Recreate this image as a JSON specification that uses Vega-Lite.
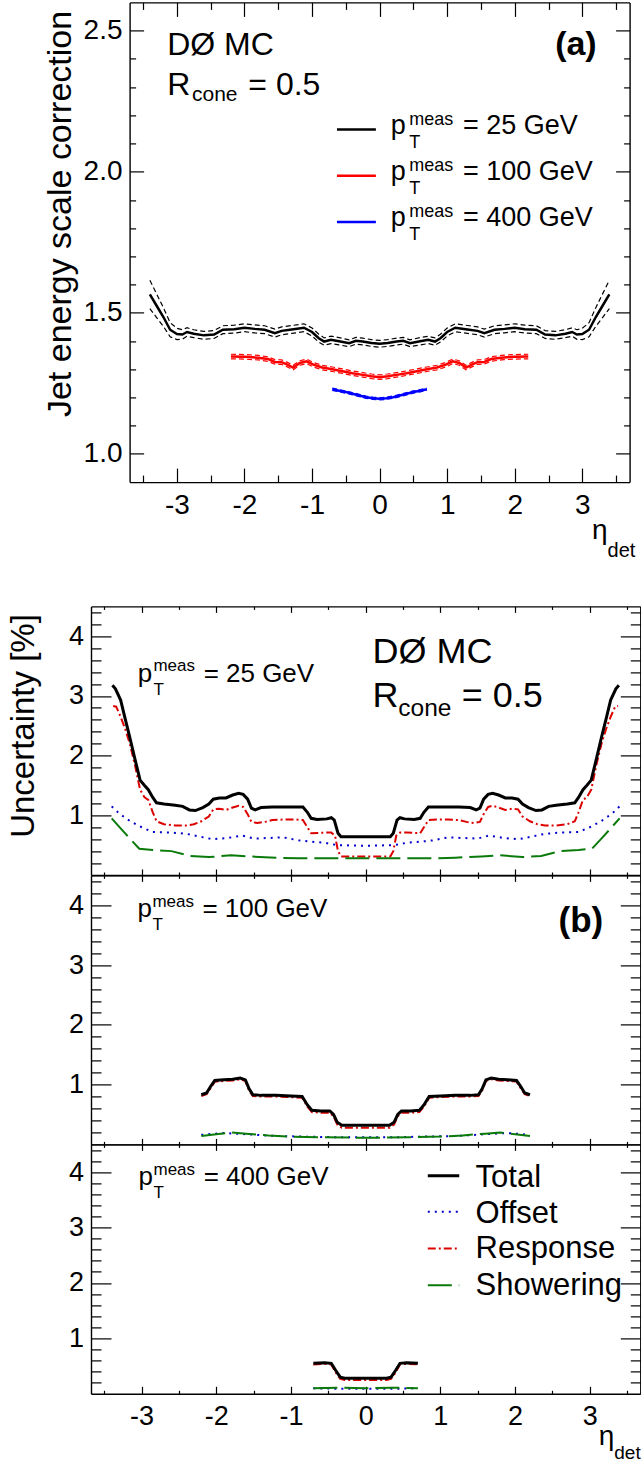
{
"$schema": "https://vega.github.io/schema/vega-lite/v6.json",
"background": "white",
"padding": {"left": 7, "top": 1.4, "right": 0, "bottom": 0},
"config": {
  "view": {"stroke": null},
  "font": "Liberation Sans",
  "axis": {"grid": false, "domainColor": "#000", "domainWidth": 1.4, "tickColor": "#000", "tickWidth": 1.2, "labelColor": "#000", "labelFont": "Liberation Sans", "titleFont": "Liberation Sans", "titleColor": "#000", "titleFontWeight": "normal", "labelFlush": false, "labelOverlap": false},
  "text": {"font": "Liberation Sans", "align": "left", "baseline": "alphabetic", "color": "#000"}
},
"datasets": {
  "jes": [
    {"p":"25","e":-3.4,"c":1.565,"u":1.615,"l":1.515},{"p":"25","e":-3.3,"c":1.525,"u":1.567,"l":1.483},{"p":"25","e":-3.2,"c":1.485,"u":1.518,"l":1.452},{"p":"25","e":-3.1,"c":1.44,"u":1.465,"l":1.415},{"p":"25","e":-3.0,"c":1.425,"u":1.445,"l":1.405},{"p":"25","e":-2.92,"c":1.423,"u":1.44,"l":1.406},{"p":"25","e":-2.85,"c":1.432,"u":1.447,"l":1.417},{"p":"25","e":-2.75,"c":1.426,"u":1.44,"l":1.412},{"p":"25","e":-2.6,"c":1.42,"u":1.434,"l":1.406},{"p":"25","e":-2.45,"c":1.423,"u":1.437,"l":1.409},{"p":"25","e":-2.32,"c":1.44,"u":1.454,"l":1.426},{"p":"25","e":-2.15,"c":1.442,"u":1.456,"l":1.428},{"p":"25","e":-2.0,"c":1.447,"u":1.461,"l":1.433},{"p":"25","e":-1.85,"c":1.443,"u":1.457,"l":1.429},{"p":"25","e":-1.7,"c":1.44,"u":1.454,"l":1.426},{"p":"25","e":-1.55,"c":1.428,"u":1.442,"l":1.414},{"p":"25","e":-1.45,"c":1.436,"u":1.45,"l":1.422},{"p":"25","e":-1.3,"c":1.441,"u":1.455,"l":1.427},{"p":"25","e":-1.12,"c":1.447,"u":1.461,"l":1.433},{"p":"25","e":-1.0,"c":1.432,"u":1.446,"l":1.418},{"p":"25","e":-0.9,"c":1.41,"u":1.424,"l":1.396},{"p":"25","e":-0.82,"c":1.398,"u":1.411,"l":1.385},{"p":"25","e":-0.72,"c":1.404,"u":1.417,"l":1.391},{"p":"25","e":-0.6,"c":1.399,"u":1.412,"l":1.386},{"p":"25","e":-0.45,"c":1.392,"u":1.404,"l":1.38},{"p":"25","e":-0.35,"c":1.401,"u":1.413,"l":1.389},{"p":"25","e":-0.25,"c":1.398,"u":1.41,"l":1.386},{"p":"25","e":-0.12,"c":1.393,"u":1.405,"l":1.381},{"p":"25","e":0,"c":1.39,"u":1.402,"l":1.378},
    {"p":"25","e":0.12,"c":1.393,"u":1.405,"l":1.381},{"p":"25","e":0.25,"c":1.398,"u":1.41,"l":1.386},{"p":"25","e":0.35,"c":1.401,"u":1.413,"l":1.389},{"p":"25","e":0.45,"c":1.392,"u":1.404,"l":1.38},{"p":"25","e":0.6,"c":1.399,"u":1.412,"l":1.386},{"p":"25","e":0.72,"c":1.404,"u":1.417,"l":1.391},{"p":"25","e":0.82,"c":1.398,"u":1.411,"l":1.385},{"p":"25","e":0.9,"c":1.41,"u":1.424,"l":1.396},{"p":"25","e":1.0,"c":1.432,"u":1.446,"l":1.418},{"p":"25","e":1.12,"c":1.447,"u":1.461,"l":1.433},{"p":"25","e":1.3,"c":1.441,"u":1.455,"l":1.427},{"p":"25","e":1.45,"c":1.436,"u":1.45,"l":1.422},{"p":"25","e":1.55,"c":1.428,"u":1.442,"l":1.414},{"p":"25","e":1.7,"c":1.44,"u":1.454,"l":1.426},{"p":"25","e":1.85,"c":1.443,"u":1.457,"l":1.429},{"p":"25","e":2.0,"c":1.447,"u":1.461,"l":1.433},{"p":"25","e":2.15,"c":1.442,"u":1.456,"l":1.428},{"p":"25","e":2.32,"c":1.44,"u":1.454,"l":1.426},{"p":"25","e":2.45,"c":1.423,"u":1.437,"l":1.409},{"p":"25","e":2.6,"c":1.42,"u":1.434,"l":1.406},{"p":"25","e":2.75,"c":1.426,"u":1.44,"l":1.412},{"p":"25","e":2.85,"c":1.432,"u":1.447,"l":1.417},{"p":"25","e":2.92,"c":1.423,"u":1.44,"l":1.406},{"p":"25","e":3.0,"c":1.425,"u":1.445,"l":1.405},{"p":"25","e":3.1,"c":1.44,"u":1.465,"l":1.415},{"p":"25","e":3.2,"c":1.485,"u":1.518,"l":1.452},{"p":"25","e":3.3,"c":1.525,"u":1.567,"l":1.483},{"p":"25","e":3.4,"c":1.565,"u":1.615,"l":1.515},
    {"p":"100","e":-2.2,"c":1.345,"u":1.353,"l":1.337},{"p":"100","e":-2.0,"c":1.344,"u":1.352,"l":1.336},{"p":"100","e":-1.8,"c":1.341,"u":1.349,"l":1.333},{"p":"100","e":-1.65,"c":1.336,"u":1.344,"l":1.328},{"p":"100","e":-1.55,"c":1.326,"u":1.334,"l":1.318},{"p":"100","e":-1.45,"c":1.325,"u":1.333,"l":1.317},{"p":"100","e":-1.38,"c":1.318,"u":1.326,"l":1.31},{"p":"100","e":-1.28,"c":1.306,"u":1.314,"l":1.298},{"p":"100","e":-1.18,"c":1.322,"u":1.33,"l":1.314},{"p":"100","e":-1.08,"c":1.328,"u":1.336,"l":1.32},{"p":"100","e":-0.98,"c":1.316,"u":1.324,"l":1.308},{"p":"100","e":-0.85,"c":1.306,"u":1.314,"l":1.298},{"p":"100","e":-0.7,"c":1.3,"u":1.308,"l":1.292},{"p":"100","e":-0.55,"c":1.293,"u":1.301,"l":1.285},{"p":"100","e":-0.4,"c":1.286,"u":1.294,"l":1.278},{"p":"100","e":-0.25,"c":1.28,"u":1.288,"l":1.272},{"p":"100","e":-0.12,"c":1.275,"u":1.283,"l":1.267},{"p":"100","e":0,"c":1.272,"u":1.28,"l":1.264},
    {"p":"100","e":0.12,"c":1.275,"u":1.283,"l":1.267},{"p":"100","e":0.25,"c":1.28,"u":1.288,"l":1.272},{"p":"100","e":0.4,"c":1.286,"u":1.294,"l":1.278},{"p":"100","e":0.55,"c":1.293,"u":1.301,"l":1.285},{"p":"100","e":0.7,"c":1.3,"u":1.308,"l":1.292},{"p":"100","e":0.85,"c":1.306,"u":1.314,"l":1.298},{"p":"100","e":0.98,"c":1.316,"u":1.324,"l":1.308},{"p":"100","e":1.08,"c":1.328,"u":1.336,"l":1.32},{"p":"100","e":1.18,"c":1.322,"u":1.33,"l":1.314},{"p":"100","e":1.28,"c":1.306,"u":1.314,"l":1.298},{"p":"100","e":1.38,"c":1.318,"u":1.326,"l":1.31},{"p":"100","e":1.45,"c":1.325,"u":1.333,"l":1.317},{"p":"100","e":1.55,"c":1.326,"u":1.334,"l":1.318},{"p":"100","e":1.65,"c":1.336,"u":1.344,"l":1.328},{"p":"100","e":1.8,"c":1.341,"u":1.349,"l":1.333},{"p":"100","e":2.0,"c":1.344,"u":1.352,"l":1.336},{"p":"100","e":2.2,"c":1.345,"u":1.353,"l":1.337},
    {"p":"400","e":-0.7,"c":1.229,"u":1.233,"l":1.225},{"p":"400","e":-0.6,"c":1.224,"u":1.228,"l":1.22},{"p":"400","e":-0.5,"c":1.219,"u":1.223,"l":1.215},{"p":"400","e":-0.4,"c":1.213,"u":1.217,"l":1.209},{"p":"400","e":-0.3,"c":1.207,"u":1.211,"l":1.203},{"p":"400","e":-0.2,"c":1.201,"u":1.205,"l":1.197},{"p":"400","e":-0.1,"c":1.197,"u":1.201,"l":1.193},{"p":"400","e":0,"c":1.195,"u":1.199,"l":1.191},{"p":"400","e":0.1,"c":1.197,"u":1.201,"l":1.193},{"p":"400","e":0.2,"c":1.201,"u":1.205,"l":1.197},{"p":"400","e":0.3,"c":1.207,"u":1.211,"l":1.203},{"p":"400","e":0.4,"c":1.213,"u":1.217,"l":1.209},{"p":"400","e":0.5,"c":1.219,"u":1.223,"l":1.215},{"p":"400","e":0.6,"c":1.224,"u":1.228,"l":1.22},{"p":"400","e":0.7,"c":1.229,"u":1.233,"l":1.225}
  ],
  "unc": [
    {"p":"25","c":"Total","e":-3.39,"v":3.18},{"p":"25","c":"Total","e":-3.35,"v":3.12},{"p":"25","c":"Total","e":-3.28,"v":2.93},{"p":"25","c":"Total","e":-3.22,"v":2.62},{"p":"25","c":"Total","e":-3.16,"v":2.32},{"p":"25","c":"Total","e":-3.09,"v":1.95},{"p":"25","c":"Total","e":-3.02,"v":1.59},{"p":"25","c":"Total","e":-2.96,"v":1.5},{"p":"25","c":"Total","e":-2.91,"v":1.43},{"p":"25","c":"Total","e":-2.85,"v":1.3},{"p":"25","c":"Total","e":-2.8,"v":1.21},{"p":"25","c":"Total","e":-2.7,"v":1.19},{"p":"25","c":"Total","e":-2.55,"v":1.17},{"p":"25","c":"Total","e":-2.45,"v":1.15},{"p":"25","c":"Total","e":-2.36,"v":1.09},{"p":"25","c":"Total","e":-2.28,"v":1.08},{"p":"25","c":"Total","e":-2.18,"v":1.13},{"p":"25","c":"Total","e":-2.1,"v":1.19},{"p":"25","c":"Total","e":-2.04,"v":1.27},{"p":"25","c":"Total","e":-1.96,"v":1.29},{"p":"25","c":"Total","e":-1.87,"v":1.29},{"p":"25","c":"Total","e":-1.78,"v":1.34},{"p":"25","c":"Total","e":-1.7,"v":1.37},{"p":"25","c":"Total","e":-1.64,"v":1.35},{"p":"25","c":"Total","e":-1.58,"v":1.27},{"p":"25","c":"Total","e":-1.53,"v":1.12},{"p":"25","c":"Total","e":-1.48,"v":1.09},{"p":"25","c":"Total","e":-1.4,"v":1.13},{"p":"25","c":"Total","e":-1.25,"v":1.14},{"p":"25","c":"Total","e":-1.1,"v":1.14},{"p":"25","c":"Total","e":-0.95,"v":1.14},{"p":"25","c":"Total","e":-0.84,"v":1.14},{"p":"25","c":"Total","e":-0.78,"v":1.05},{"p":"25","c":"Total","e":-0.73,"v":0.95},{"p":"25","c":"Total","e":-0.65,"v":0.93},{"p":"25","c":"Total","e":-0.52,"v":0.94},{"p":"25","c":"Total","e":-0.46,"v":0.96},{"p":"25","c":"Total","e":-0.42,"v":0.92},{"p":"25","c":"Total","e":-0.37,"v":0.7},{"p":"25","c":"Total","e":-0.33,"v":0.64},{"p":"25","c":"Total","e":0,"v":0.64},
    {"p":"25","c":"Total","e":0.33,"v":0.64},{"p":"25","c":"Total","e":0.37,"v":0.7},{"p":"25","c":"Total","e":0.42,"v":0.92},{"p":"25","c":"Total","e":0.46,"v":0.96},{"p":"25","c":"Total","e":0.52,"v":0.94},{"p":"25","c":"Total","e":0.65,"v":0.93},{"p":"25","c":"Total","e":0.73,"v":0.95},{"p":"25","c":"Total","e":0.78,"v":1.05},{"p":"25","c":"Total","e":0.84,"v":1.14},{"p":"25","c":"Total","e":0.95,"v":1.14},{"p":"25","c":"Total","e":1.1,"v":1.14},{"p":"25","c":"Total","e":1.25,"v":1.14},{"p":"25","c":"Total","e":1.4,"v":1.13},{"p":"25","c":"Total","e":1.48,"v":1.09},{"p":"25","c":"Total","e":1.53,"v":1.12},{"p":"25","c":"Total","e":1.58,"v":1.27},{"p":"25","c":"Total","e":1.64,"v":1.35},{"p":"25","c":"Total","e":1.7,"v":1.37},{"p":"25","c":"Total","e":1.78,"v":1.34},{"p":"25","c":"Total","e":1.87,"v":1.29},{"p":"25","c":"Total","e":1.96,"v":1.29},{"p":"25","c":"Total","e":2.04,"v":1.27},{"p":"25","c":"Total","e":2.1,"v":1.19},{"p":"25","c":"Total","e":2.18,"v":1.13},{"p":"25","c":"Total","e":2.28,"v":1.08},{"p":"25","c":"Total","e":2.36,"v":1.09},{"p":"25","c":"Total","e":2.45,"v":1.15},{"p":"25","c":"Total","e":2.55,"v":1.17},{"p":"25","c":"Total","e":2.7,"v":1.19},{"p":"25","c":"Total","e":2.8,"v":1.21},{"p":"25","c":"Total","e":2.85,"v":1.3},{"p":"25","c":"Total","e":2.91,"v":1.43},{"p":"25","c":"Total","e":2.96,"v":1.5},{"p":"25","c":"Total","e":3.02,"v":1.59},{"p":"25","c":"Total","e":3.09,"v":1.95},{"p":"25","c":"Total","e":3.16,"v":2.32},{"p":"25","c":"Total","e":3.22,"v":2.62},{"p":"25","c":"Total","e":3.28,"v":2.93},{"p":"25","c":"Total","e":3.35,"v":3.12},{"p":"25","c":"Total","e":3.39,"v":3.18},
    {"p":"25","c":"Response","e":-3.38,"v":2.83},{"p":"25","c":"Response","e":-3.34,"v":2.82},{"p":"25","c":"Response","e":-3.28,"v":2.65},{"p":"25","c":"Response","e":-3.22,"v":2.45},{"p":"25","c":"Response","e":-3.16,"v":2.21},{"p":"25","c":"Response","e":-3.09,"v":1.85},{"p":"25","c":"Response","e":-3.02,"v":1.43},{"p":"25","c":"Response","e":-2.96,"v":1.3},{"p":"25","c":"Response","e":-2.91,"v":1.26},{"p":"25","c":"Response","e":-2.85,"v":1.05},{"p":"25","c":"Response","e":-2.8,"v":0.9},{"p":"25","c":"Response","e":-2.7,"v":0.85},{"p":"25","c":"Response","e":-2.55,"v":0.83},{"p":"25","c":"Response","e":-2.4,"v":0.83},{"p":"25","c":"Response","e":-2.3,"v":0.85},{"p":"25","c":"Response","e":-2.2,"v":0.9},{"p":"25","c":"Response","e":-2.1,"v":0.98},{"p":"25","c":"Response","e":-2.04,"v":1.1},{"p":"25","c":"Response","e":-1.96,"v":1.11},{"p":"25","c":"Response","e":-1.87,"v":1.09},{"p":"25","c":"Response","e":-1.78,"v":1.13},{"p":"25","c":"Response","e":-1.7,"v":1.16},{"p":"25","c":"Response","e":-1.64,"v":1.14},{"p":"25","c":"Response","e":-1.58,"v":1.02},{"p":"25","c":"Response","e":-1.53,"v":0.89},{"p":"25","c":"Response","e":-1.45,"v":0.87},{"p":"25","c":"Response","e":-1.35,"v":0.89},{"p":"25","c":"Response","e":-1.25,"v":0.92},{"p":"25","c":"Response","e":-1.1,"v":0.93},{"p":"25","c":"Response","e":-0.95,"v":0.93},{"p":"25","c":"Response","e":-0.84,"v":0.92},{"p":"25","c":"Response","e":-0.78,"v":0.8},{"p":"25","c":"Response","e":-0.73,"v":0.7},{"p":"25","c":"Response","e":-0.55,"v":0.71},{"p":"25","c":"Response","e":-0.46,"v":0.71},{"p":"25","c":"Response","e":-0.41,"v":0.66},{"p":"25","c":"Response","e":-0.37,"v":0.4},{"p":"25","c":"Response","e":-0.33,"v":0.31},{"p":"25","c":"Response","e":0,"v":0.31},
    {"p":"25","c":"Response","e":0.33,"v":0.31},{"p":"25","c":"Response","e":0.37,"v":0.4},{"p":"25","c":"Response","e":0.41,"v":0.66},{"p":"25","c":"Response","e":0.46,"v":0.71},{"p":"25","c":"Response","e":0.55,"v":0.71},{"p":"25","c":"Response","e":0.73,"v":0.7},{"p":"25","c":"Response","e":0.78,"v":0.8},{"p":"25","c":"Response","e":0.84,"v":0.92},{"p":"25","c":"Response","e":0.95,"v":0.93},{"p":"25","c":"Response","e":1.1,"v":0.93},{"p":"25","c":"Response","e":1.25,"v":0.92},{"p":"25","c":"Response","e":1.35,"v":0.89},{"p":"25","c":"Response","e":1.45,"v":0.87},{"p":"25","c":"Response","e":1.53,"v":0.89},{"p":"25","c":"Response","e":1.58,"v":1.02},{"p":"25","c":"Response","e":1.64,"v":1.14},{"p":"25","c":"Response","e":1.7,"v":1.16},{"p":"25","c":"Response","e":1.78,"v":1.13},{"p":"25","c":"Response","e":1.87,"v":1.09},{"p":"25","c":"Response","e":1.96,"v":1.11},{"p":"25","c":"Response","e":2.04,"v":1.1},{"p":"25","c":"Response","e":2.1,"v":0.98},{"p":"25","c":"Response","e":2.2,"v":0.9},{"p":"25","c":"Response","e":2.3,"v":0.85},{"p":"25","c":"Response","e":2.4,"v":0.83},{"p":"25","c":"Response","e":2.55,"v":0.83},{"p":"25","c":"Response","e":2.7,"v":0.85},{"p":"25","c":"Response","e":2.8,"v":0.9},{"p":"25","c":"Response","e":2.85,"v":1.05},{"p":"25","c":"Response","e":2.91,"v":1.26},{"p":"25","c":"Response","e":2.96,"v":1.3},{"p":"25","c":"Response","e":3.02,"v":1.43},{"p":"25","c":"Response","e":3.09,"v":1.85},{"p":"25","c":"Response","e":3.16,"v":2.21},{"p":"25","c":"Response","e":3.22,"v":2.45},{"p":"25","c":"Response","e":3.28,"v":2.65},{"p":"25","c":"Response","e":3.34,"v":2.82},{"p":"25","c":"Response","e":3.38,"v":2.83},
    {"p":"25","c":"Offset","e":-3.4,"v":1.15},{"p":"25","c":"Offset","e":-3.3,"v":1.03},{"p":"25","c":"Offset","e":-3.15,"v":0.9},{"p":"25","c":"Offset","e":-3.0,"v":0.8},{"p":"25","c":"Offset","e":-2.85,"v":0.72},{"p":"25","c":"Offset","e":-2.6,"v":0.71},{"p":"25","c":"Offset","e":-2.4,"v":0.69},{"p":"25","c":"Offset","e":-2.25,"v":0.65},{"p":"25","c":"Offset","e":-2.05,"v":0.6},{"p":"25","c":"Offset","e":-1.85,"v":0.62},{"p":"25","c":"Offset","e":-1.65,"v":0.66},{"p":"25","c":"Offset","e":-1.5,"v":0.61},{"p":"25","c":"Offset","e":-1.3,"v":0.62},{"p":"25","c":"Offset","e":-1.1,"v":0.63},{"p":"25","c":"Offset","e":-0.9,"v":0.58},{"p":"25","c":"Offset","e":-0.75,"v":0.56},{"p":"25","c":"Offset","e":-0.55,"v":0.54},{"p":"25","c":"Offset","e":-0.38,"v":0.5},{"p":"25","c":"Offset","e":0,"v":0.49},
    {"p":"25","c":"Offset","e":0.38,"v":0.5},{"p":"25","c":"Offset","e":0.55,"v":0.54},{"p":"25","c":"Offset","e":0.75,"v":0.56},{"p":"25","c":"Offset","e":0.9,"v":0.58},{"p":"25","c":"Offset","e":1.1,"v":0.63},{"p":"25","c":"Offset","e":1.3,"v":0.62},{"p":"25","c":"Offset","e":1.5,"v":0.61},{"p":"25","c":"Offset","e":1.65,"v":0.66},{"p":"25","c":"Offset","e":1.85,"v":0.62},{"p":"25","c":"Offset","e":2.05,"v":0.6},{"p":"25","c":"Offset","e":2.25,"v":0.65},{"p":"25","c":"Offset","e":2.4,"v":0.69},{"p":"25","c":"Offset","e":2.6,"v":0.71},{"p":"25","c":"Offset","e":2.85,"v":0.72},{"p":"25","c":"Offset","e":3.0,"v":0.8},{"p":"25","c":"Offset","e":3.15,"v":0.9},{"p":"25","c":"Offset","e":3.3,"v":1.03},{"p":"25","c":"Offset","e":3.4,"v":1.15},
    {"p":"25","c":"Showering","e":-3.4,"v":0.95},{"p":"25","c":"Showering","e":-3.28,"v":0.78},{"p":"25","c":"Showering","e":-3.15,"v":0.6},{"p":"25","c":"Showering","e":-3.03,"v":0.44},{"p":"25","c":"Showering","e":-2.85,"v":0.42},{"p":"25","c":"Showering","e":-2.6,"v":0.4},{"p":"25","c":"Showering","e":-2.35,"v":0.32},{"p":"25","c":"Showering","e":-2.1,"v":0.3},{"p":"25","c":"Showering","e":-1.8,"v":0.33},{"p":"25","c":"Showering","e":-1.55,"v":0.31},{"p":"25","c":"Showering","e":-1.2,"v":0.29},{"p":"25","c":"Showering","e":-0.9,"v":0.28},{"p":"25","c":"Showering","e":-0.5,"v":0.28},{"p":"25","c":"Showering","e":0,"v":0.28},
    {"p":"25","c":"Showering","e":0.5,"v":0.28},{"p":"25","c":"Showering","e":0.9,"v":0.28},{"p":"25","c":"Showering","e":1.2,"v":0.29},{"p":"25","c":"Showering","e":1.55,"v":0.31},{"p":"25","c":"Showering","e":1.8,"v":0.33},{"p":"25","c":"Showering","e":2.1,"v":0.3},{"p":"25","c":"Showering","e":2.35,"v":0.32},{"p":"25","c":"Showering","e":2.6,"v":0.4},{"p":"25","c":"Showering","e":2.85,"v":0.42},{"p":"25","c":"Showering","e":3.03,"v":0.44},{"p":"25","c":"Showering","e":3.15,"v":0.6},{"p":"25","c":"Showering","e":3.28,"v":0.78},{"p":"25","c":"Showering","e":3.4,"v":0.95},
    {"p":"100","c":"Total","e":-2.2,"v":0.83},{"p":"100","c":"Total","e":-2.13,"v":0.86},{"p":"100","c":"Total","e":-2.07,"v":0.98},{"p":"100","c":"Total","e":-2.02,"v":1.07},{"p":"100","c":"Total","e":-1.9,"v":1.08},{"p":"100","c":"Total","e":-1.78,"v":1.09},{"p":"100","c":"Total","e":-1.68,"v":1.11},{"p":"100","c":"Total","e":-1.61,"v":1.08},{"p":"100","c":"Total","e":-1.56,"v":0.93},{"p":"100","c":"Total","e":-1.51,"v":0.83},{"p":"100","c":"Total","e":-1.4,"v":0.82},{"p":"100","c":"Total","e":-1.2,"v":0.82},{"p":"100","c":"Total","e":-1.0,"v":0.81},{"p":"100","c":"Total","e":-0.85,"v":0.8},{"p":"100","c":"Total","e":-0.78,"v":0.66},{"p":"100","c":"Total","e":-0.72,"v":0.57},{"p":"100","c":"Total","e":-0.6,"v":0.56},{"p":"100","c":"Total","e":-0.48,"v":0.56},{"p":"100","c":"Total","e":-0.43,"v":0.5},{"p":"100","c":"Total","e":-0.38,"v":0.37},{"p":"100","c":"Total","e":-0.32,"v":0.32},{"p":"100","c":"Total","e":0,"v":0.32},
    {"p":"100","c":"Total","e":0.32,"v":0.32},{"p":"100","c":"Total","e":0.38,"v":0.37},{"p":"100","c":"Total","e":0.43,"v":0.5},{"p":"100","c":"Total","e":0.48,"v":0.56},{"p":"100","c":"Total","e":0.6,"v":0.56},{"p":"100","c":"Total","e":0.72,"v":0.57},{"p":"100","c":"Total","e":0.78,"v":0.66},{"p":"100","c":"Total","e":0.85,"v":0.8},{"p":"100","c":"Total","e":1.0,"v":0.81},{"p":"100","c":"Total","e":1.2,"v":0.82},{"p":"100","c":"Total","e":1.4,"v":0.82},{"p":"100","c":"Total","e":1.51,"v":0.83},{"p":"100","c":"Total","e":1.56,"v":0.93},{"p":"100","c":"Total","e":1.61,"v":1.08},{"p":"100","c":"Total","e":1.68,"v":1.11},{"p":"100","c":"Total","e":1.78,"v":1.09},{"p":"100","c":"Total","e":1.9,"v":1.08},{"p":"100","c":"Total","e":2.02,"v":1.07},{"p":"100","c":"Total","e":2.07,"v":0.98},{"p":"100","c":"Total","e":2.13,"v":0.86},{"p":"100","c":"Total","e":2.2,"v":0.83},
    {"p":"100","c":"Response","e":-2.2,"v":0.81},{"p":"100","c":"Response","e":-2.13,"v":0.84},{"p":"100","c":"Response","e":-2.07,"v":0.95},{"p":"100","c":"Response","e":-2.02,"v":1.05},{"p":"100","c":"Response","e":-1.9,"v":1.06},{"p":"100","c":"Response","e":-1.78,"v":1.07},{"p":"100","c":"Response","e":-1.68,"v":1.09},{"p":"100","c":"Response","e":-1.61,"v":1.06},{"p":"100","c":"Response","e":-1.56,"v":0.9},{"p":"100","c":"Response","e":-1.51,"v":0.81},{"p":"100","c":"Response","e":-1.4,"v":0.8},{"p":"100","c":"Response","e":-1.2,"v":0.8},{"p":"100","c":"Response","e":-1.0,"v":0.79},{"p":"100","c":"Response","e":-0.85,"v":0.78},{"p":"100","c":"Response","e":-0.78,"v":0.63},{"p":"100","c":"Response","e":-0.72,"v":0.54},{"p":"100","c":"Response","e":-0.6,"v":0.53},{"p":"100","c":"Response","e":-0.48,"v":0.53},{"p":"100","c":"Response","e":-0.43,"v":0.47},{"p":"100","c":"Response","e":-0.38,"v":0.33},{"p":"100","c":"Response","e":-0.32,"v":0.28},{"p":"100","c":"Response","e":0,"v":0.28},
    {"p":"100","c":"Response","e":0.32,"v":0.28},{"p":"100","c":"Response","e":0.38,"v":0.33},{"p":"100","c":"Response","e":0.43,"v":0.47},{"p":"100","c":"Response","e":0.48,"v":0.53},{"p":"100","c":"Response","e":0.6,"v":0.53},{"p":"100","c":"Response","e":0.72,"v":0.54},{"p":"100","c":"Response","e":0.78,"v":0.63},{"p":"100","c":"Response","e":0.85,"v":0.78},{"p":"100","c":"Response","e":1.0,"v":0.79},{"p":"100","c":"Response","e":1.2,"v":0.8},{"p":"100","c":"Response","e":1.4,"v":0.8},{"p":"100","c":"Response","e":1.51,"v":0.81},{"p":"100","c":"Response","e":1.56,"v":0.9},{"p":"100","c":"Response","e":1.61,"v":1.06},{"p":"100","c":"Response","e":1.68,"v":1.09},{"p":"100","c":"Response","e":1.78,"v":1.07},{"p":"100","c":"Response","e":1.9,"v":1.06},{"p":"100","c":"Response","e":2.02,"v":1.05},{"p":"100","c":"Response","e":2.07,"v":0.95},{"p":"100","c":"Response","e":2.13,"v":0.84},{"p":"100","c":"Response","e":2.2,"v":0.81},
    {"p":"100","c":"Offset","e":-2.2,"v":0.16},{"p":"100","c":"Offset","e":-1.9,"v":0.19},{"p":"100","c":"Offset","e":-1.6,"v":0.17},{"p":"100","c":"Offset","e":-1.2,"v":0.14},{"p":"100","c":"Offset","e":-0.8,"v":0.13},{"p":"100","c":"Offset","e":-0.4,"v":0.12},{"p":"100","c":"Offset","e":0,"v":0.12},{"p":"100","c":"Offset","e":0.4,"v":0.12},{"p":"100","c":"Offset","e":0.8,"v":0.13},{"p":"100","c":"Offset","e":1.2,"v":0.14},{"p":"100","c":"Offset","e":1.6,"v":0.17},{"p":"100","c":"Offset","e":1.9,"v":0.19},{"p":"100","c":"Offset","e":2.2,"v":0.16},
    {"p":"100","c":"Showering","e":-2.2,"v":0.14},{"p":"100","c":"Showering","e":-2.0,"v":0.17},{"p":"100","c":"Showering","e":-1.8,"v":0.2},{"p":"100","c":"Showering","e":-1.6,"v":0.18},{"p":"100","c":"Showering","e":-1.3,"v":0.15},{"p":"100","c":"Showering","e":-1.0,"v":0.13},{"p":"100","c":"Showering","e":-0.6,"v":0.12},{"p":"100","c":"Showering","e":0,"v":0.11},{"p":"100","c":"Showering","e":0.6,"v":0.12},{"p":"100","c":"Showering","e":1.0,"v":0.13},{"p":"100","c":"Showering","e":1.3,"v":0.15},{"p":"100","c":"Showering","e":1.6,"v":0.18},{"p":"100","c":"Showering","e":1.8,"v":0.2},{"p":"100","c":"Showering","e":2.0,"v":0.17},{"p":"100","c":"Showering","e":2.2,"v":0.14},
    {"p":"400","c":"Total","e":-0.7,"v":0.55},{"p":"400","c":"Total","e":-0.55,"v":0.56},{"p":"400","c":"Total","e":-0.46,"v":0.55},{"p":"400","c":"Total","e":-0.4,"v":0.42},{"p":"400","c":"Total","e":-0.34,"v":0.3},{"p":"400","c":"Total","e":-0.28,"v":0.28},{"p":"400","c":"Total","e":0,"v":0.28},{"p":"400","c":"Total","e":0.28,"v":0.28},{"p":"400","c":"Total","e":0.34,"v":0.3},{"p":"400","c":"Total","e":0.4,"v":0.42},{"p":"400","c":"Total","e":0.46,"v":0.55},{"p":"400","c":"Total","e":0.55,"v":0.56},{"p":"400","c":"Total","e":0.7,"v":0.55},
    {"p":"400","c":"Response","e":-0.7,"v":0.53},{"p":"400","c":"Response","e":-0.55,"v":0.54},{"p":"400","c":"Response","e":-0.46,"v":0.53},{"p":"400","c":"Response","e":-0.4,"v":0.38},{"p":"400","c":"Response","e":-0.34,"v":0.27},{"p":"400","c":"Response","e":-0.28,"v":0.25},{"p":"400","c":"Response","e":0,"v":0.25},{"p":"400","c":"Response","e":0.28,"v":0.25},{"p":"400","c":"Response","e":0.34,"v":0.27},{"p":"400","c":"Response","e":0.4,"v":0.38},{"p":"400","c":"Response","e":0.46,"v":0.53},{"p":"400","c":"Response","e":0.55,"v":0.54},{"p":"400","c":"Response","e":0.7,"v":0.53},
    {"p":"400","c":"Offset","e":-0.7,"v":0.1},{"p":"400","c":"Offset","e":-0.35,"v":0.09},{"p":"400","c":"Offset","e":0,"v":0.09},{"p":"400","c":"Offset","e":0.35,"v":0.09},{"p":"400","c":"Offset","e":0.7,"v":0.1},
    {"p":"400","c":"Showering","e":-0.7,"v":0.1},{"p":"400","c":"Showering","e":-0.35,"v":0.11},{"p":"400","c":"Showering","e":0,"v":0.1},{"p":"400","c":"Showering","e":0.35,"v":0.11},{"p":"400","c":"Showering","e":0.7,"v":0.1}
  ]
},
"resolve": {"scale": {"color": "independent", "strokeDash": "independent"}},
"spacing": 124,
"bounds": "flush",
"vconcat": [
{
  "width": 549.3, "height": 479.7,
  "resolve": {"axis": {"x": "independent", "y": "independent"}},
  "layer": [
    {"data": {"name": "jes"}, "mark": {"type": "line", "strokeDash": [5, 3], "strokeWidth": 1.2},
     "encoding": {
       "x": {"field": "e", "type": "quantitative", "scale": {"domain": [-3.7, 3.7], "range": [38.6, 538.6], "nice": false, "zero": false},
             "axis": {"orient": "bottom", "values": [-3,-2,-1,0,1,2,3], "tickSize": -14, "labelPadding": 23.6, "labelFontSize": 28, "labelExpr": "(datum.value < 0 ? '-' : '') + abs(datum.value)", "title": null}},
       "y": {"field": "u", "type": "quantitative", "scale": {"domain": [0.9, 2.6], "nice": false, "zero": false},
             "axis": {"orient": "left", "offset": -38.6, "values": [1, 1.5, 2, 2.5], "tickSize": -14, "labelPadding": 21.6, "labelFontSize": 28, "format": ".1f", "title": "Jet energy scale correction", "titleFontSize": 34, "titleAnchor": "end", "titleX": -52.3, "titleY": 8}},
       "color": {"field": "p", "type": "nominal", "scale": {"domain": ["25", "100", "400"], "range": ["#000000", "#ff0000", "#0000ff"]}, "legend": null}
     }},
    {"data": {"name": "jes"}, "mark": {"type": "line", "strokeDash": [5, 3], "strokeWidth": 1.2},
     "encoding": {"x": {"field": "e", "type": "quantitative", "axis": null}, "y": {"field": "l", "type": "quantitative", "axis": null},
       "color": {"field": "p", "type": "nominal", "legend": null}}},
    {"data": {"name": "jes"}, "mark": {"type": "line", "strokeWidth": 2.5},
     "encoding": {"x": {"field": "e", "type": "quantitative", "axis": null}, "y": {"field": "c", "type": "quantitative", "axis": null},
       "color": {"field": "p", "type": "nominal", "legend": null}}},
    {"data": {"values": [{}]}, "mark": {"type": "point", "opacity": 0},
     "encoding": {"x": {"datum": 0, "type": "quantitative", "axis": {"orient": "top", "values": [-3,-2,-1,0,1,2,3], "tickSize": -14, "labels": false, "title": null}},
                  "y": {"datum": 1.5, "type": "quantitative", "axis": {"orient": "right", "offset": -10.7, "values": [1, 1.5, 2, 2.5], "tickSize": -14, "labels": false, "title": null}}}},
    {"data": {"values": [{}]}, "mark": {"type": "point", "opacity": 0},
     "encoding": {"x": {"datum": 0, "type": "quantitative", "axis": {"orient": "bottom", "values": [-3.5,-2.5,-1.5,-0.5,0.5,1.5,2.5,3.5], "tickSize": -7, "labels": false, "domain": false, "title": null}},
                  "y": {"datum": 1.5, "type": "quantitative", "axis": {"orient": "left", "offset": -38.6, "values": [1.1,1.2,1.3,1.4,1.6,1.7,1.8,1.9,2.1,2.2,2.3,2.4], "tickSize": -6, "labels": false, "domain": false, "title": null}}}},
    {"data": {"values": [{}]}, "mark": {"type": "point", "opacity": 0},
     "encoding": {"x": {"datum": 0, "type": "quantitative", "axis": {"orient": "top", "values": [-3.5,-2.5,-1.5,-0.5,0.5,1.5,2.5,3.5], "tickSize": -7, "labels": false, "domain": false, "title": null}},
                  "y": {"datum": 1.5, "type": "quantitative", "axis": {"orient": "right", "offset": -10.7, "values": [1.1,1.2,1.3,1.4,1.6,1.7,1.8,1.9,2.1,2.2,2.3,2.4], "tickSize": -6, "labels": false, "domain": false, "title": null}}}},
    {"data": {"values": [{}]}, "mark": {"type": "text", "text": "DØ MC", "fontSize": 32}, "encoding": {"x": {"datum": -3.143, "axis": null}, "y": {"datum": 2.415, "axis": null}}},
    {"data": {"values": [{}]}, "mark": {"type": "text", "text": "R", "fontSize": 32}, "encoding": {"x": {"datum": -3.143, "axis": null}, "y": {"datum": 2.271, "axis": null}}},
    {"data": {"values": [{}]}, "mark": {"type": "text", "text": "cone", "fontSize": 21}, "encoding": {"x": {"datum": -2.777, "axis": null}, "y": {"datum": 2.252, "axis": null}}},
    {"data": {"values": [{}]}, "mark": {"type": "text", "text": "= 0.5", "fontSize": 32}, "encoding": {"x": {"datum": -1.943, "axis": null}, "y": {"datum": 2.271, "axis": null}}},
    {"data": {"values": [{}]}, "mark": {"type": "text", "text": "(a)", "fontSize": 34, "fontWeight": "bold", "align": "right"}, "encoding": {"x": {"datum": 3.213, "axis": null}, "y": {"datum": 2.415, "axis": null}}},
    {"data": {"values": [{}]}, "mark": {"type": "rule", "color": "#000000", "strokeWidth": 2.5}, "encoding": {"x": {"datum": -0.631, "axis": null}, "x2": {"datum": -0.055}, "y": {"datum": 2.150, "axis": null}}},
    {"data": {"values": [{}]}, "mark": {"type": "rule", "color": "#ff0000", "strokeWidth": 2.5}, "encoding": {"x": {"datum": -0.631, "axis": null}, "x2": {"datum": -0.055}, "y": {"datum": 1.986, "axis": null}}},
    {"data": {"values": [{}]}, "mark": {"type": "rule", "color": "#0000ff", "strokeWidth": 2.5}, "encoding": {"x": {"datum": -0.631, "axis": null}, "x2": {"datum": -0.055}, "y": {"datum": 1.822, "axis": null}}},
    {"data": {"values": [{}]}, "mark": {"type": "text", "text": "p", "fontSize": 27}, "encoding": {"x": {"datum": 0.164, "axis": null}, "y": {"datum": 2.134, "axis": null}}},
    {"data": {"values": [{}]}, "mark": {"type": "text", "text": "meas", "fontSize": 18}, "encoding": {"x": {"datum": 0.439, "axis": null}, "y": {"datum": 2.167, "axis": null}}},
    {"data": {"values": [{}]}, "mark": {"type": "text", "text": "T", "fontSize": 18}, "encoding": {"x": {"datum": 0.439, "axis": null}, "y": {"datum": 2.085, "axis": null}}},
    {"data": {"values": [{}]}, "mark": {"type": "text", "text": "= 25 GeV", "fontSize": 27}, "encoding": {"x": {"datum": 1.235, "axis": null}, "y": {"datum": 2.134, "axis": null}}},
    {"data": {"values": [{}]}, "mark": {"type": "text", "text": "p", "fontSize": 27}, "encoding": {"x": {"datum": 0.164, "axis": null}, "y": {"datum": 1.970, "axis": null}}},
    {"data": {"values": [{}]}, "mark": {"type": "text", "text": "meas", "fontSize": 18}, "encoding": {"x": {"datum": 0.439, "axis": null}, "y": {"datum": 2.004, "axis": null}}},
    {"data": {"values": [{}]}, "mark": {"type": "text", "text": "T", "fontSize": 18}, "encoding": {"x": {"datum": 0.439, "axis": null}, "y": {"datum": 1.921, "axis": null}}},
    {"data": {"values": [{}]}, "mark": {"type": "text", "text": "= 100 GeV", "fontSize": 27}, "encoding": {"x": {"datum": 1.235, "axis": null}, "y": {"datum": 1.970, "axis": null}}},
    {"data": {"values": [{}]}, "mark": {"type": "text", "text": "p", "fontSize": 27}, "encoding": {"x": {"datum": 0.164, "axis": null}, "y": {"datum": 1.807, "axis": null}}},
    {"data": {"values": [{}]}, "mark": {"type": "text", "text": "meas", "fontSize": 18}, "encoding": {"x": {"datum": 0.439, "axis": null}, "y": {"datum": 1.840, "axis": null}}},
    {"data": {"values": [{}]}, "mark": {"type": "text", "text": "T", "fontSize": 18}, "encoding": {"x": {"datum": 0.439, "axis": null}, "y": {"datum": 1.757, "axis": null}}},
    {"data": {"values": [{}]}, "mark": {"type": "text", "text": "= 400 GeV", "fontSize": 27}, "encoding": {"x": {"datum": 1.235, "axis": null}, "y": {"datum": 1.807, "axis": null}}},
    {"data": {"values": [{}]}, "mark": {"type": "text", "text": "η", "fontSize": 28, "align": "right"}, "encoding": {"x": {"datum": 3.374, "axis": null}, "y": {"datum": 0.70, "axis": null}}},
    {"data": {"values": [{}]}, "mark": {"type": "text", "text": "det", "fontSize": 20, "align": "left"}, "encoding": {"x": {"datum": 3.374, "axis": null}, "y": {"datum": 0.635, "axis": null}}}
  ]
},
{
  "spacing": 0,
  "bounds": "flush",
  "vconcat": [
  {
    "width": 549.3, "height": 268.6,
    "resolve": {"axis": {"x": "independent", "y": "independent"}},
    "layer": [
      {"data": {"name": "unc"}, "transform": [{"filter": "datum.p === '25' && datum.c !== 'Total'"}], "mark": {"type": "line", "strokeWidth": 2},
       "encoding": {
         "x": {"field": "e", "type": "quantitative", "scale": {"domain": [-3.677, 3.677], "nice": false, "zero": false},
               "axis": {"orient": "bottom", "values": [-3,-2,-1,0,1,2,3], "tickSize": -6, "labels": false, "title": null}},
         "y": {"field": "v", "type": "quantitative", "scale": {"domain": [0, 4.5], "nice": false, "zero": false},
               "axis": {"orient": "left", "values": [1,2,3,4], "tickSize": -20, "labelPadding": 27.4, "labelFontSize": 27, "format": "d", "title": "Uncertainty [%]", "titleFontSize": 33, "titleAnchor": "end", "titleX": -50.7, "titleY": 7.3}},
         "color": {"field": "c", "type": "nominal", "scale": {"domain": ["Offset", "Response", "Showering"], "range": ["#0000cc", "#dd0000", "#0a7a0a"]}, "legend": null},
         "strokeDash": {"field": "c", "type": "nominal", "scale": {"domain": ["Offset", "Response", "Showering"], "range": [[2, 5], [8, 3, 2, 3], [24, 7]]}, "legend": null}
       }},
      {"data": {"name": "unc"}, "transform": [{"filter": "datum.p === '25' && datum.c === 'Total'"}], "mark": {"type": "line", "strokeWidth": 3, "color": "#000000"},
       "encoding": {"x": {"field": "e", "type": "quantitative", "axis": null}, "y": {"field": "v", "type": "quantitative", "axis": null}}},
      {"data": {"values": [{}]}, "mark": {"type": "point", "opacity": 0},
       "encoding": {"x": {"datum": 0, "type": "quantitative", "axis": {"orient": "top", "values": [-3,-2,-1,0,1,2,3], "tickSize": -6, "labels": false, "title": null}},
                    "y": {"datum": 1, "type": "quantitative", "axis": {"orient": "right", "values": [1,2,3,4], "tickSize": -20, "labels": false, "title": null}}}},
      {"data": {"values": [{}]}, "mark": {"type": "point", "opacity": 0},
       "encoding": {"x": {"datum": 0, "type": "quantitative", "axis": {"orient": "bottom", "values": [-3.5,-2.5,-1.5,-0.5,0.5,1.5,2.5,3.5], "tickSize": -3, "labels": false, "domain": false, "title": null}},
                    "y": {"datum": 1, "type": "quantitative", "axis": {"orient": "left", "values": [0.2,0.4,0.6,0.8,1.2,1.4,1.6,1.8,2.2,2.4,2.6,2.8,3.2,3.4,3.6,3.8,4.2,4.4], "tickSize": -10, "labels": false, "domain": false, "title": null}}}},
      {"data": {"values": [{}]}, "mark": {"type": "point", "opacity": 0},
       "encoding": {"x": {"datum": 0, "type": "quantitative", "axis": {"orient": "top", "values": [-3.5,-2.5,-1.5,-0.5,0.5,1.5,2.5,3.5], "tickSize": -3, "labels": false, "domain": false, "title": null}},
                    "y": {"datum": 1, "type": "quantitative", "axis": {"orient": "right", "values": [0.2,0.4,0.6,0.8,1.2,1.4,1.6,1.8,2.2,2.4,2.6,2.8,3.2,3.4,3.6,3.8,4.2,4.4], "tickSize": -10, "labels": false, "domain": false, "title": null}}}},
      {"data": {"values": [{}]}, "mark": {"type": "text", "text": "p", "fontSize": 26}, "encoding": {"x": {"datum": -3.05, "axis": null}, "y": {"datum": 3.233, "axis": null}}},
      {"data": {"values": [{}]}, "mark": {"type": "text", "text": "meas", "fontSize": 17}, "encoding": {"x": {"datum": -2.841, "axis": null}, "y": {"datum": 3.412, "axis": null}}},
      {"data": {"values": [{}]}, "mark": {"type": "text", "text": "T", "fontSize": 17}, "encoding": {"x": {"datum": -2.841, "axis": null}, "y": {"datum": 3.012, "axis": null}}},
      {"data": {"values": [{}]}, "mark": {"type": "text", "text": "= 25 GeV", "fontSize": 26}, "encoding": {"x": {"datum": -2.169, "axis": null}, "y": {"datum": 3.233, "axis": null}}},
      {"data": {"values": [{}]}, "mark": {"type": "text", "text": "DØ MC", "fontSize": 36}, "encoding": {"x": {"datum": 0.092, "axis": null}, "y": {"datum": 3.55, "axis": null}}},
      {"data": {"values": [{}]}, "mark": {"type": "text", "text": "R", "fontSize": 36}, "encoding": {"x": {"datum": 0.092, "axis": null}, "y": {"datum": 2.817, "axis": null}}},
      {"data": {"values": [{}]}, "mark": {"type": "text", "text": "cone", "fontSize": 24.5}, "encoding": {"x": {"datum": 0.437, "axis": null}, "y": {"datum": 2.662, "axis": null}}},
      {"data": {"values": [{}]}, "mark": {"type": "text", "text": "= 0.5", "fontSize": 36}, "encoding": {"x": {"datum": 1.285, "axis": null}, "y": {"datum": 2.817, "axis": null}}}
    ]
  },
  {
    "width": 549.3, "height": 269,
    "resolve": {"axis": {"x": "independent", "y": "independent"}},
    "layer": [
      {"data": {"name": "unc"}, "transform": [{"filter": "datum.p === '100' && datum.c !== 'Total'"}], "mark": {"type": "line", "strokeWidth": 2},
       "encoding": {
         "x": {"field": "e", "type": "quantitative", "scale": {"domain": [-3.677, 3.677], "nice": false, "zero": false},
               "axis": {"orient": "bottom", "values": [-3,-2,-1,0,1,2,3], "tickSize": -6, "labels": false, "title": null}},
         "y": {"field": "v", "type": "quantitative", "scale": {"domain": [0, 4.5], "nice": false, "zero": false},
               "axis": {"orient": "left", "values": [1,2,3,4], "tickSize": -20, "labelPadding": 27.4, "labelFontSize": 27, "format": "d", "title": null}},
         "color": {"field": "c", "type": "nominal", "scale": {"domain": ["Offset", "Response", "Showering"], "range": ["#0000cc", "#dd0000", "#0a7a0a"]}, "legend": null},
         "strokeDash": {"field": "c", "type": "nominal", "scale": {"domain": ["Offset", "Response", "Showering"], "range": [[2, 5], [8, 3, 2, 3], [24, 7]]}, "legend": null}
       }},
      {"data": {"name": "unc"}, "transform": [{"filter": "datum.p === '100' && datum.c === 'Total'"}], "mark": {"type": "line", "strokeWidth": 3, "color": "#000000"},
       "encoding": {"x": {"field": "e", "type": "quantitative", "axis": null}, "y": {"field": "v", "type": "quantitative", "axis": null}}},
      {"data": {"values": [{}]}, "mark": {"type": "point", "opacity": 0},
       "encoding": {"x": {"datum": 0, "type": "quantitative", "axis": {"orient": "top", "values": [-3,-2,-1,0,1,2,3], "tickSize": -6, "labels": false, "title": null}},
                    "y": {"datum": 1, "type": "quantitative", "axis": {"orient": "right", "values": [1,2,3,4], "tickSize": -20, "labels": false, "title": null}}}},
      {"data": {"values": [{}]}, "mark": {"type": "point", "opacity": 0},
       "encoding": {"x": {"datum": 0, "type": "quantitative", "axis": {"orient": "bottom", "values": [-3.5,-2.5,-1.5,-0.5,0.5,1.5,2.5,3.5], "tickSize": -3, "labels": false, "domain": false, "title": null}},
                    "y": {"datum": 1, "type": "quantitative", "axis": {"orient": "left", "values": [0.2,0.4,0.6,0.8,1.2,1.4,1.6,1.8,2.2,2.4,2.6,2.8,3.2,3.4,3.6,3.8,4.2,4.4], "tickSize": -10, "labels": false, "domain": false, "title": null}}}},
      {"data": {"values": [{}]}, "mark": {"type": "point", "opacity": 0},
       "encoding": {"x": {"datum": 0, "type": "quantitative", "axis": {"orient": "top", "values": [-3.5,-2.5,-1.5,-0.5,0.5,1.5,2.5,3.5], "tickSize": -3, "labels": false, "domain": false, "title": null}},
                    "y": {"datum": 1, "type": "quantitative", "axis": {"orient": "right", "values": [0.2,0.4,0.6,0.8,1.2,1.4,1.6,1.8,2.2,2.4,2.6,2.8,3.2,3.4,3.6,3.8,4.2,4.4], "tickSize": -10, "labels": false, "domain": false, "title": null}}}},
      {"data": {"values": [{}]}, "mark": {"type": "text", "text": "p", "fontSize": 26}, "encoding": {"x": {"datum": -3.056, "axis": null}, "y": {"datum": 3.796, "axis": null}}},
      {"data": {"values": [{}]}, "mark": {"type": "text", "text": "meas", "fontSize": 17}, "encoding": {"x": {"datum": -2.854, "axis": null}, "y": {"datum": 3.979, "axis": null}}},
      {"data": {"values": [{}]}, "mark": {"type": "text", "text": "T", "fontSize": 17}, "encoding": {"x": {"datum": -2.854, "axis": null}, "y": {"datum": 3.587, "axis": null}}},
      {"data": {"values": [{}]}, "mark": {"type": "text", "text": "= 100 GeV", "fontSize": 26}, "encoding": {"x": {"datum": -2.185, "axis": null}, "y": {"datum": 3.796, "axis": null}}},
      {"data": {"values": [{}]}, "mark": {"type": "text", "text": "(b)", "fontSize": 35, "fontWeight": "bold", "align": "right"}, "encoding": {"x": {"datum": 3.181, "axis": null}, "y": {"datum": 3.559, "axis": null}}}
    ]
  },
  {
    "width": 549.3, "height": 249.4,
    "resolve": {"axis": {"x": "independent", "y": "independent"}},
    "layer": [
      {"data": {"name": "unc"}, "transform": [{"filter": "datum.p === '400' && datum.c !== 'Total'"}], "mark": {"type": "line", "strokeWidth": 2},
       "encoding": {
         "x": {"field": "e", "type": "quantitative", "scale": {"domain": [-3.677, 3.677], "nice": false, "zero": false},
               "axis": {"orient": "bottom", "values": [-3,-2,-1,0,1,2,3], "tickSize": -7.5, "labelPadding": 17, "labelFontSize": 27, "labelExpr": "(datum.value < 0 ? '-' : '') + abs(datum.value)", "title": null}},
         "y": {"field": "v", "type": "quantitative", "scale": {"domain": [0, 4.5], "nice": false, "zero": false},
               "axis": {"orient": "left", "values": [1,2,3,4], "tickSize": -20, "labelPadding": 27.4, "labelFontSize": 27, "format": "d", "title": null}},
         "color": {"field": "c", "type": "nominal", "scale": {"domain": ["Offset", "Response", "Showering"], "range": ["#0000cc", "#dd0000", "#0a7a0a"]}, "legend": null},
         "strokeDash": {"field": "c", "type": "nominal", "scale": {"domain": ["Offset", "Response", "Showering"], "range": [[2, 5], [8, 3, 2, 3], [24, 7]]}, "legend": null}
       }},
      {"data": {"name": "unc"}, "transform": [{"filter": "datum.p === '400' && datum.c === 'Total'"}], "mark": {"type": "line", "strokeWidth": 3, "color": "#000000"},
       "encoding": {"x": {"field": "e", "type": "quantitative", "axis": null}, "y": {"field": "v", "type": "quantitative", "axis": null}}},
      {"data": {"values": [{}]}, "mark": {"type": "point", "opacity": 0},
       "encoding": {"x": {"datum": 0, "type": "quantitative", "axis": {"orient": "top", "values": [-3,-2,-1,0,1,2,3], "tickSize": -6, "labels": false, "title": null}},
                    "y": {"datum": 1, "type": "quantitative", "axis": {"orient": "right", "values": [1,2,3,4], "tickSize": -20, "labels": false, "title": null}}}},
      {"data": {"values": [{}]}, "mark": {"type": "point", "opacity": 0},
       "encoding": {"x": {"datum": 0, "type": "quantitative", "axis": {"orient": "bottom", "values": [-3.5,-2.5,-1.5,-0.5,0.5,1.5,2.5,3.5], "tickSize": -3.5, "labels": false, "domain": false, "title": null}},
                    "y": {"datum": 1, "type": "quantitative", "axis": {"orient": "left", "values": [0.2,0.4,0.6,0.8,1.2,1.4,1.6,1.8,2.2,2.4,2.6,2.8,3.2,3.4,3.6,3.8,4.2,4.4], "tickSize": -10, "labels": false, "domain": false, "title": null}}}},
      {"data": {"values": [{}]}, "mark": {"type": "point", "opacity": 0},
       "encoding": {"x": {"datum": 0, "type": "quantitative", "axis": {"orient": "top", "values": [-3.5,-2.5,-1.5,-0.5,0.5,1.5,2.5,3.5], "tickSize": -3, "labels": false, "domain": false, "title": null}},
                    "y": {"datum": 1, "type": "quantitative", "axis": {"orient": "right", "values": [0.2,0.4,0.6,0.8,1.2,1.4,1.6,1.8,2.2,2.4,2.6,2.8,3.2,3.4,3.6,3.8,4.2,4.4], "tickSize": -10, "labels": false, "domain": false, "title": null}}}},
      {"data": {"values": [{}]}, "mark": {"type": "text", "text": "p", "fontSize": 26}, "encoding": {"x": {"datum": -3.04, "axis": null}, "y": {"datum": 3.765, "axis": null}}},
      {"data": {"values": [{}]}, "mark": {"type": "text", "text": "meas", "fontSize": 17}, "encoding": {"x": {"datum": -2.84, "axis": null}, "y": {"datum": 3.946, "axis": null}}},
      {"data": {"values": [{}]}, "mark": {"type": "text", "text": "T", "fontSize": 17}, "encoding": {"x": {"datum": -2.84, "axis": null}, "y": {"datum": 3.525, "axis": null}}},
      {"data": {"values": [{}]}, "mark": {"type": "text", "text": "= 400 GeV", "fontSize": 26}, "encoding": {"x": {"datum": -2.169, "axis": null}, "y": {"datum": 3.765, "axis": null}}},
      {"data": {"values": [{}]}, "mark": {"type": "rule", "color": "#000000", "strokeWidth": 3}, "encoding": {"x": {"datum": 0.832, "axis": null}, "x2": {"datum": 1.253}, "y": {"datum": 3.933, "axis": null}}},
      {"data": {"values": [{}]}, "mark": {"type": "rule", "color": "#0000cc", "strokeWidth": 2, "strokeDash": [2, 5]}, "encoding": {"x": {"datum": 0.832, "axis": null}, "x2": {"datum": 1.253}, "y": {"datum": 3.283, "axis": null}}},
      {"data": {"values": [{}]}, "mark": {"type": "rule", "color": "#dd0000", "strokeWidth": 2, "strokeDash": [8, 3, 2, 3]}, "encoding": {"x": {"datum": 0.832, "axis": null}, "x2": {"datum": 1.253}, "y": {"datum": 2.622, "axis": null}}},
      {"data": {"values": [{}]}, "mark": {"type": "rule", "color": "#0a7a0a", "strokeWidth": 2, "strokeDash": [24, 7]}, "encoding": {"x": {"datum": 0.832, "axis": null}, "x2": {"datum": 1.253}, "y": {"datum": 1.960, "axis": null}}},
      {"data": {"values": [{}]}, "mark": {"type": "text", "text": "Total", "fontSize": 31}, "encoding": {"x": {"datum": 1.472, "axis": null}, "y": {"datum": 3.735, "axis": null}}},
      {"data": {"values": [{}]}, "mark": {"type": "text", "text": "Offset", "fontSize": 31}, "encoding": {"x": {"datum": 1.472, "axis": null}, "y": {"datum": 3.074, "axis": null}}},
      {"data": {"values": [{}]}, "mark": {"type": "text", "text": "Response", "fontSize": 31}, "encoding": {"x": {"datum": 1.472, "axis": null}, "y": {"datum": 2.442, "axis": null}}},
      {"data": {"values": [{}]}, "mark": {"type": "text", "text": "Showering", "fontSize": 31}, "encoding": {"x": {"datum": 1.472, "axis": null}, "y": {"datum": 1.780, "axis": null}}},
      {"data": {"values": [{}]}, "mark": {"type": "text", "text": "η", "fontSize": 28, "align": "right"}, "encoding": {"x": {"datum": 3.329, "axis": null}, "y": {"datum": -0.93, "axis": null}}},
      {"data": {"values": [{}]}, "mark": {"type": "text", "text": "det", "fontSize": 19, "align": "left"}, "encoding": {"x": {"datum": 3.329, "axis": null}, "y": {"datum": -1.18, "axis": null}}}
    ]
  }
  ]
}
]
}
